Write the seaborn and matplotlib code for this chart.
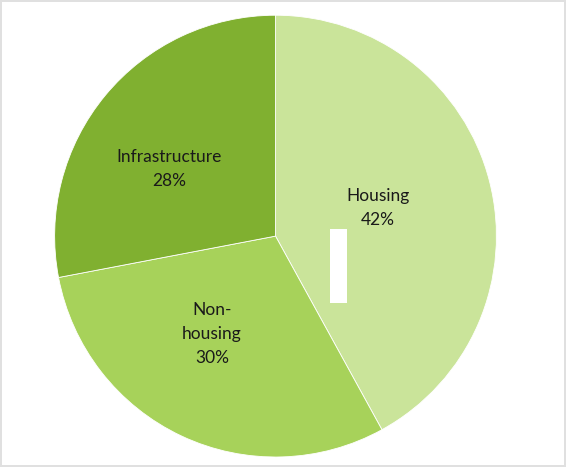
import matplotlib
matplotlib.use("Agg")
import numpy as np
import matplotlib.pyplot as plt
import seaborn as sns
from matplotlib.patches import Rectangle

# Data
sectors = ["Housing", "Non-\nhousing", "Infrastructure"]
shares = [42, 30, 28]
colors = ["#CAE49A", "#A7D25A", "#80B030"]

# label placement (radius fraction, angle shift in degrees)
label_dist = [0.48, 0.53, 0.57]
label_shift = [1.0, -7.7, 7.6]

sns.set_theme(style="white")
plt.rcParams['font.family'] = ['Lato', 'DejaVu Sans']

fig = plt.figure(figsize=(5.66, 4.67), dpi=100)
fig.patch.set_facecolor("white")
fig.patch.set_edgecolor("#e0e0e0")
fig.patch.set_linewidth(1.5)

ax = fig.add_axes([0.0963, 0.0214, 0.781, 0.946])

labels = [f"{s}\n{v}%" for s, v in zip(sectors, shares)]
wedges, texts = ax.pie(shares, labels=labels, colors=sns.color_palette(colors),
                       startangle=90, counterclock=False, labeldistance=0.5,
                       wedgeprops=dict(edgecolor="white", linewidth=0.6),
                       textprops=dict(fontsize=12.5, color="#1a1a1a",
                                      ha="center", va="center",
                                      linespacing=1.62))

# move each label along its wedge's mid angle
for w, t, d, s in zip(wedges, texts, label_dist, label_shift):
    ang = np.deg2rad((w.theta1 + w.theta2) / 2 + s)
    t.set_position((d * np.cos(ang), d * np.sin(ang)))

ax.set_xlim(-1.0, 1.0)
ax.set_ylim(-1.0, 1.0)
ax.set_aspect("equal")
ax.axis("off")

# white block overlaid on the housing slice in the source image
fig.patches.append(Rectangle((330 / 566, 1 - 303 / 467), 17 / 566, 74 / 467,
                             transform=fig.transFigure, facecolor="white",
                             edgecolor="none", zorder=5))

fig.savefig("out.png", dpi=100)
